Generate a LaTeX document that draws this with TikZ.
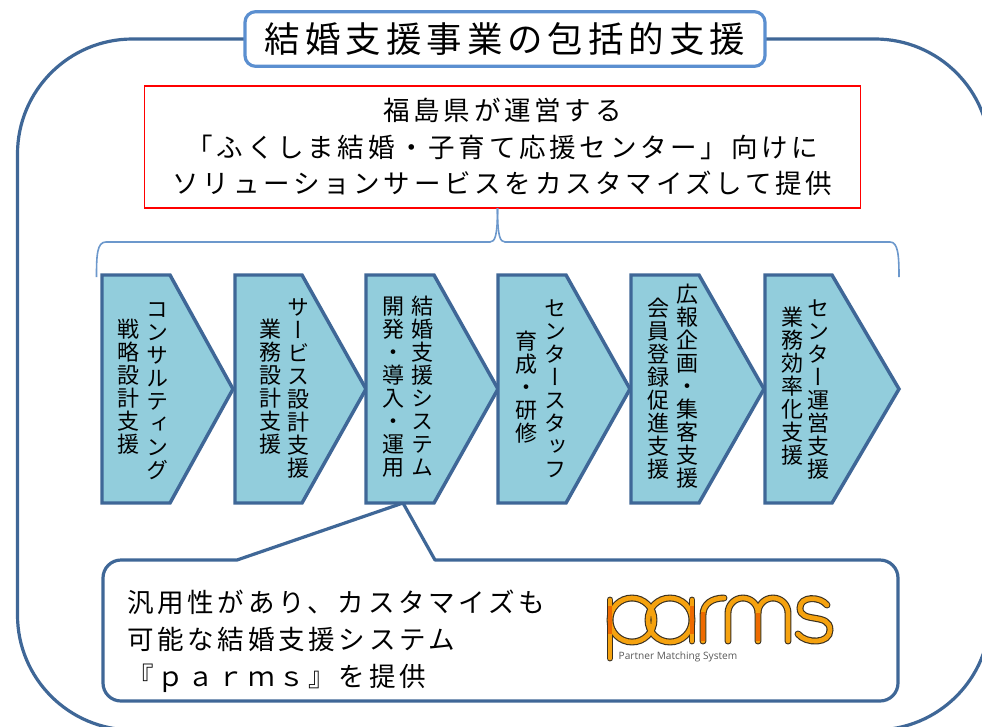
\documentclass[tikz,border=0pt]{standalone}
\usepackage{fontspec}
\setmainfont{Noto Sans CJK JP}
\newfontfamily\jpls[LetterSpace=14]{Noto Sans CJK JP}
\newfontfamily\jpv[RawFeature=+vert]{Noto Sans CJK JP}
\newfontfamily\logofont{Open Sans}
\newcommand\vsloop[1]{\ifx#1\relax\else\hbox to 17.25pt{\hss\rule[-3.5pt]{0pt}{17.25pt}\smash{#1}\hss}\expandafter\vsloop\fi}
\newcommand\vs[1]{\vbox{\offinterlineskip\jpv\fontsize{16.5}{17.25}\selectfont\vsloop#1\relax}}
\definecolor{navy}{HTML}{3F6797}
\definecolor{skyb}{HTML}{92CDDC}
\definecolor{midb}{HTML}{5B8FD0}
\definecolor{braceb}{HTML}{6C98CC}
\definecolor{logoO}{HTML}{F5A20F}
\definecolor{logoD}{HTML}{EE6A00}
\definecolor{logoK}{HTML}{3A3020}
\tikzset{
  x=0.75pt,y=-0.75pt,
  chev/.style={draw=navy,fill=skyb,line width=2.6pt,line join=miter},
  vtext/.style={inner sep=0pt,anchor=center},
  bodytext/.style={font=\jpls\fontsize{19.9}{27.6}\selectfont,inner sep=0pt},
  lk/.style={draw=logoK,line width=5.2pt,line cap=round},
  lo/.style={draw=logoO,line width=3.5pt,line cap=round},
  ld/.style={draw=logoD,line width=3.5pt},
}
\newcommand\chevron[3]{\draw[chev] (#1,275) -- (#2,275) -- (#3,389) -- (#2,503) -- (#1,503) -- cycle;}
\newcommand\logoshapes[1]{
  \draw[#1] (610,600) -- (610,658);
  \draw[#1] (632,620) circle[radius=22];
  \draw[#1] (670,620) circle[radius=22];
  \draw[#1] (692,600) -- (692,641);
  \draw[#1] (703,641) -- (703,615) .. controls (703,604) and (712,598) .. (724,598);
  \draw[#1] (728,641) -- (728,613) arc[start angle=180,end angle=360,radius=15] -- (758,641);
  \draw[#1] (758,613) arc[start angle=180,end angle=360,radius=15] -- (788,641);
  \draw[#1] (827,605) .. controls (820,596) and (800,596) .. (800,608) .. controls (800,624) and (830,612) .. (830,630) .. controls (830,644) and (806,644) .. (798,634);
}
\begin{document}
\begin{tikzpicture}
\useasboundingbox (0,0) rectangle (982,726);
\clip (0,0) rectangle (982,726);
\fill[white] (0,0) rectangle (982,726);
% outer frame
\draw[navy,line width=2.4pt,rounded corners=86.25pt] (17.5,39) rectangle (990,730);
% title
\node[draw=midb,line width=2.4pt,fill=white,rounded corners=8pt,minimum width=390pt,minimum height=41pt,inner sep=0pt,font=\jpls\fontsize{26.6}{30}\selectfont] (title) at (505,39) {結婚支援事業の包括的支援};
% red box
\node[draw=red,line width=1.2pt,fill=white,minimum width=537pt,minimum height=91.5pt,inner sep=0pt,align=center,bodytext] (redbox) at (502.5,147) {福島県が運営する\\「ふくしま結婚・子育て応援センター」向けに\\ソリューションサービスをカスタマイズして提供};
% brace
\coordinate (bl) at (96.5,277);
\coordinate (br) at (899,277);
\coordinate (bt) at (497.5,208);
\draw[braceb,line width=1.2pt,line join=round] (bl) .. controls (96.5,255) and (97,242) .. (106,242) -- (490,242) .. controls (495,242) and (497.5,236) .. (bt);
\draw[braceb,line width=1.2pt,line join=round] (br) .. controls (899,255) and (898,242) .. (890,242) -- (505,242) .. controls (500,242) and (497.5,236) .. (bt);
% callout
\draw[navy,line width=2.4pt,fill=white,line join=round] (600,560) [rounded corners=13.5pt] -- (898,560) -- (898,701) -- (103,701) -- (103,560) -- (200,560) [sharp corners] -- (237,560) -- (403,503) -- (435,560) -- cycle;
\node[bodytext,align=left,anchor=west] (calltext) at (127,641) {汎用性があり、カスタマイズも\\可能な結婚支援システム\\『ｐａｒｍｓ』を提供};
% chevrons
\chevron{102}{170}{233}
\chevron{235}{302}{366}
\chevron{366}{434}{498}
\chevron{498}{566}{630}
\chevron{631}{699}{764}
\chevron{765}{832}{899}
\node[vtext] (a1) at (157,391) {\vs{コンサルティング}};
\node[vtext] (a2) at (128,388) {\vs{戦略設計支援}};
\node[vtext] (b1) at (298,389) {\vs{サービス設計支援}};
\node[vtext] (b2) at (270,388) {\vs{業務設計支援}};
\node[vtext] (c1) at (422,388) {\vs{結婚支援システム}};
\node[vtext] (c2) at (393,388) {\vs{開発・導入・運用}};
\node[vtext] (d1) at (555,390) {\vs{センタースタッフ}};
\node[vtext] (d2) at (526,389) {\vs{育成・研修}};
\node[vtext] (e1) at (687,388) {\vs{広報企画・集客支援}};
\node[vtext] (e2) at (658,390) {\vs{会員登録促進支援}};
\node[vtext] (f1) at (818,390) {\vs{センター運営支援}};
\node[vtext] (f2) at (792,388) {\vs{業務効率化支援}};
% logo
\logoshapes{lk}
\logoshapes{lo}
\draw[ld] (610,606) -- (610,634);
\draw[ld] (692,606) -- (692,634);
\draw[ld] (703,612) -- (703,641);
\draw[ld] (758,613) -- (758,641);
\node[inner sep=0pt,text=black!65,font=\logofont\fontsize{7.6}{9}\selectfont] (logotext) at (678,657) {Partner Matching System};
\end{tikzpicture}
\end{document}
